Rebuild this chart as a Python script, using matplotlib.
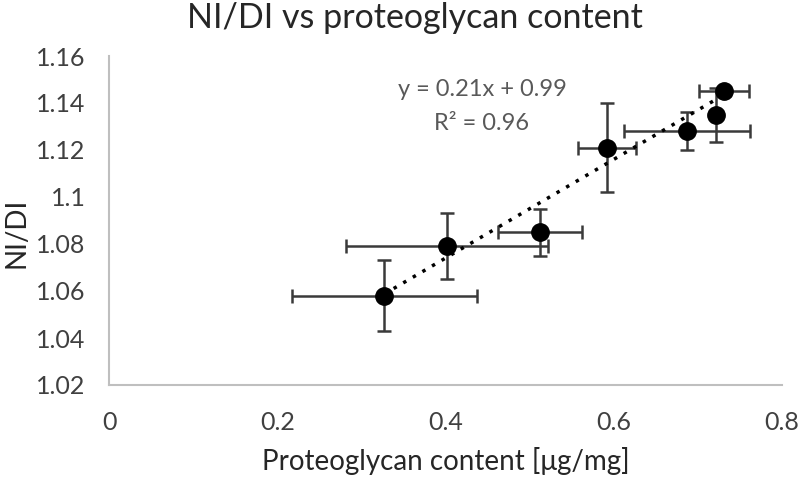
import matplotlib
matplotlib.use("Agg")
import matplotlib.pyplot as plt
import numpy as np

x = [0.327, 0.402, 0.512, 0.592, 0.687, 0.722, 0.731]
y = [1.058, 1.079, 1.085, 1.121, 1.128, 1.135, 1.145]
xerr = [0.110, 0.120, 0.050, 0.035, 0.075, 0.0, 0.030]
yerr = [0.015, 0.014, 0.010, 0.019, 0.008, 0.0115, 0.002]
slope, intercept, r2 = 0.21, 0.99, 0.96

plt.rcParams['font.family'] = ['Lato', 'DejaVu Sans']
W, H = 800, 479
fig = plt.figure(figsize=(8, 4.79), dpi=100)
x0, x1, ytop, ybot = 109, 782, 56, 385
ax = fig.add_axes([x0 / W, 1 - ybot / H, (x1 - x0) / W, (ybot - ytop) / H])

ax.errorbar(x, y, xerr=xerr, yerr=yerr, fmt='none', ecolor='#3a3a3a',
            elinewidth=1.8, capsize=5, capthick=1.8, zorder=2)
ax.plot(x, y, 'o', color='black', markersize=12.5, zorder=3)
tx = np.array([min(x), max(x)])
ax.plot(tx, slope * tx + intercept, linestyle=(0, (1, 2.2)), color='black',
        linewidth=2.5, zorder=2.5)

fig.text(482 / W, 1 - 90 / H, 'y = 0.21x + 0.99', fontsize=17, color='#595959',
         ha='center', va='center')
fig.text(482 / W, 1 - 123 / H, 'R² = 0.96', fontsize=17, color='#595959',
         ha='center', va='center')

ax.set_xlim(0, 0.8)
ax.set_ylim(1.02, 1.16)
ax.set_xticks([0, 0.2, 0.4, 0.6, 0.8])
ax.set_xticklabels(['0', '0.2', '0.4', '0.6', '0.8'])
ax.set_yticks([1.02, 1.04, 1.06, 1.08, 1.1, 1.12, 1.14, 1.16])
ax.set_yticklabels(['1.02', '1.04', '1.06', '1.08', '1.1', '1.12', '1.14', '1.16'])
ax.tick_params(axis='both', length=0, labelsize=18, colors='#404040')
ax.tick_params(axis='y', pad=17)
ax.tick_params(axis='x', pad=19)
for s in ['top', 'right']:
    ax.spines[s].set_visible(False)
for s in ['left', 'bottom']:
    ax.spines[s].set_color('#bfbfbf')
    ax.spines[s].set_linewidth(1.5)

fig.text(446 / W, 1 - 470 / H, 'Proteoglycan content [μg/mg]', fontsize=20,
         color='#262626', ha='center', va='baseline')
fig.text(25 / W, 1 - 233 / H, 'NI/DI', fontsize=20, color='#262626',
         ha='center', va='baseline', rotation=90, rotation_mode='anchor')
fig.text(415 / W, 1 - 28 / H, 'NI/DI vs proteoglycan content', fontsize=24.5,
         color='#262626', ha='center', va='baseline')

fig.savefig('out.png', dpi=100)
